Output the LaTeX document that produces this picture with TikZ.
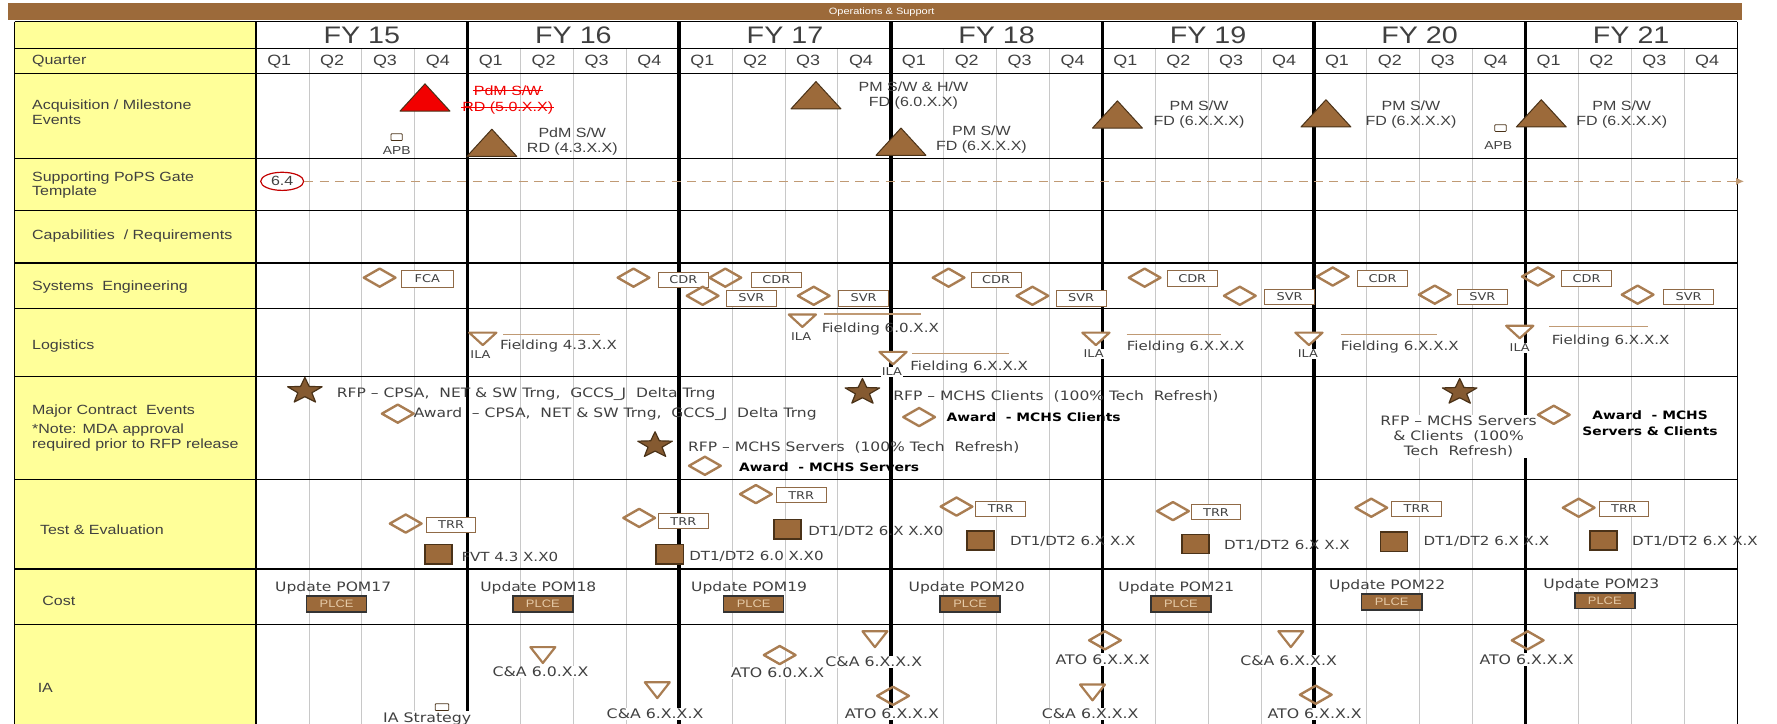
\documentclass[tikz,border=0pt]{standalone}
\usepackage{fontspec}
\setmainfont{Liberation Sans}[FakeStretch=1.2]
\newfontfamily\verdfont{DejaVu Sans}[FakeStretch=1.2]
\usepackage{tikz}
\usetikzlibrary{shapes.geometric,arrows.meta}
\definecolor{OpsBrown}{HTML}{9C6A3A}
\definecolor{OpsDark}{HTML}{4A3218}
\definecolor{OpsTan}{HTML}{A97D52}
\definecolor{OpsDash}{HTML}{C09A74}
\definecolor{OpsYellow}{HTML}{FFFF99}
\definecolor{OpsGrid}{HTML}{C8C8C8}
\definecolor{OpsText}{HTML}{404040}
\definecolor{OpsRed}{HTML}{F20000}
\definecolor{OpsPlce}{HTML}{E6CBA8}

\newcommand{\mstri}[3]{\draw[ms tri,fill=#1] (#2-22,#3+12) -- (#2,#3-12) -- (#2+22,#3+12) -- cycle;}
\newcommand{\dntri}[4]{\draw[dn tri] (#1-#3,#2-#4) -- (#1+#3,#2-#4) -- (#1,#2+#4) -- cycle;}
\newcommand{\revdia}[2]{\draw[rev dia] (#1-14,#2) -- (#1,#2-8) -- (#1+14,#2) -- (#1,#2+8) -- cycle;}
\newcommand{\ctrstar}[2]{\draw[ctr star,shift={(#1,#2)}] (0,-12) -- (3.82,-4.05) -- (15.22,-3.71)
  -- (6.18,1.55) -- (9.40,9.71) -- (0,5) -- (-9.40,9.71) -- (-6.18,1.55) -- (-15.22,-3.71)
  -- (-3.82,-4.05) -- cycle;}

\begin{document}
\begin{tikzpicture}[x=0.2mm,y=-0.2mm,
  ms tri/.style={draw=OpsDark,line width=0.5pt,line join=round},
  dn tri/.style={draw=OpsTan,fill=white,line width=1.1pt,line join=round},
  rev dia/.style={draw=OpsTan,line width=1.2pt,line join=round},
  ctr star/.style={draw=OpsDark,fill=OpsBrown!85!black,line width=0.6pt,line join=round},
  qlabel/.style={font=\fontsize{7.5}{8}\selectfont,text=OpsText},
  rowlabel/.style={anchor=west,font=\fontsize{6.7}{7.2}\selectfont,text=OpsText,align=left,inner sep=0pt},
  acqlabel/.style={font=\fontsize{6.7}{7.6}\selectfont,text=OpsText,inner sep=0.5pt,align=center},
  evlabel/.style={font=\verdfont\fontsize{6.3}{7.6}\selectfont,text=OpsText,inner sep=0.5pt},
  rfplabel/.style={font=\verdfont\fontsize{6.5}{7.6}\selectfont,text=OpsText,inner sep=0.5pt},
  evbold/.style={font=\verdfont\bfseries\fontsize{5.8}{8}\selectfont,text=black,inner sep=0.5pt},
  ialabel/.style={font=\verdfont\fontsize{6.6}{7}\selectfont,text=OpsText,fill=white,inner sep=0.6pt},
  costlabel/.style={font=\verdfont\fontsize{6.5}{7}\selectfont,text=OpsText,inner sep=0.5pt},
  revbox/.style={draw=OpsTan!85!black,fill=white,line width=0.5pt,minimum width=8.8mm,
    minimum height=2.8mm,inner sep=0pt,font=\verdfont\fontsize{5.4}{6}\selectfont,text=OpsText},
  dtsq/.style={draw=OpsDark,fill=OpsBrown,line width=0.8pt,minimum width=4.8mm,minimum height=3.4mm,inner sep=0pt},
  plce/.style={draw=black!80,fill=OpsBrown,line width=0.8pt,minimum width=10.6mm,minimum height=2.8mm,
    inner sep=0pt,font=\fontsize{5.4}{6}\selectfont,text=OpsPlce},
  apb/.style={draw=OpsDark,rounded corners=0.4pt,minimum width=2mm,minimum height=1.2mm,inner sep=0pt,line width=0.4pt},
  fieldline/.style={draw=OpsDash,line width=0.7pt}]
\useasboundingbox (0,0) rectangle (1568,638);

\fill[OpsBrown] (7,3) rectangle (1537,18);
\node[font=\fontsize{4.6}{5}\selectfont,text=white] (opsbar) at (778,10.5) {Operations \& Support};
\fill[OpsYellow] (13,19) rectangle (226,640);
\foreach \k in {1,...,27}
  \draw[OpsGrid,line width=0.5pt] (226+46.667*\k,43) -- (226+46.667*\k,640);
\foreach \r in {19,43,65,140,186,232,272,332,423,502,551}
  \draw[black,line width=0.6pt] (13,\r) -- (1533,\r);
\draw[black,line width=0.6pt] (13,19) -- (13,640);
\draw[black,line width=1pt] (226,19) -- (226,640);
\draw[black,line width=0.6pt] (1533,19) -- (1533,640);
\foreach \i in {1,...,6}
  \draw[black,line width=1.8pt] (226+186.667*\i,19) -- (226+186.667*\i,640);

\foreach \fy [count=\i from 0] in {15,...,21}
  \node[font=\fontsize{12}{13}\selectfont,text=OpsText] (fy\fy) at ({319.33+186.667*\i},31) {FY \fy};
\foreach \i in {0,...,6}
  \foreach \q in {1,...,4}
    \node[qlabel] (q\i-\q) at ({226+186.667*\i+46.667*\q-26.3},54) {Q\q};

\node[rowlabel] (lquarter) at (28,54) {Quarter};
\node[rowlabel] (lacq) at (28,99) {Acquisition / Milestone\\Events};
\node[rowlabel] (lpops) at (28,163) {Supporting PoPS Gate\\Template};
\node[rowlabel] (lcap) at (28,208) {Capabilities \ / Requirements};
\node[rowlabel] (lse) at (28,253) {Systems \ Engineering};
\node[rowlabel] (llog) at (28,305) {Logistics};
\node[rowlabel] (lmce) at (28,363) {Major Contract \ Events};
\node[rowlabel,font=\fontsize{6.7}{7.6}\selectfont] (lnote) at (28,386) {*Note: MDA approval\\required prior to RFP release};
\node[rowlabel] (lte) at (35,467) {Test \& Evaluation};
\node[rowlabel] (lcost) at (37,530) {Cost};
\node[rowlabel] (lia) at (33,607) {IA};

\mstri{OpsRed}{375}{86}
\node[acqlabel,text=OpsRed] (pdmold1) at (448,80) {PdM S/W};
\node[acqlabel,text=OpsRed] (pdmold2) at (448,95) {RD (5.0.X.X)};
\draw[OpsRed,line width=0.6pt] (pdmold1.west) -- (pdmold1.east);
\draw[OpsRed,line width=0.6pt] (pdmold2.west) -- (pdmold2.east);
\node[apb] (apb15) at (350,121) {};
\node[acqlabel,font=\fontsize{5.8}{6}\selectfont] (apb15txt) at (350,133) {APB};
\mstri{OpsBrown}{434}{126}
\node[acqlabel] (pdm43) at (505,125) {PdM S/W\\RD (4.3.X.X)};
\mstri{OpsBrown}{720}{84}
\node[acqlabel] (pm60) at (806,84) {PM S/W \& H/W\\FD (6.0.X.X)};
\mstri{OpsBrown}{795}{125}
\node[acqlabel] (pm18) at (866,123) {PM S/W\\FD (6.X.X.X)};
\mstri{OpsBrown}{986}{101}
\node[acqlabel] (pm19) at (1058,101) {PM S/W\\FD (6.X.X.X)};
\mstri{OpsBrown}{1170}{100}
\node[acqlabel] (pm20) at (1245,101) {PM S/W\\FD (6.X.X.X)};
\node[apb] (apb20) at (1324,113) {};
\node[acqlabel,font=\fontsize{5.8}{6}\selectfont] (apb20txt) at (1322,128) {APB};
\mstri{OpsBrown}{1360}{100}
\node[acqlabel] (pm21) at (1431,101) {PM S/W\\FD (6.X.X.X)};

\node[draw=OpsRed!80!black,ellipse,minimum width=7.6mm,minimum height=3.2mm,inner sep=0pt,line width=0.6pt,
  font=\fontsize{6.7}{7}\selectfont,text=OpsText] (gate64) at (249,160) {6.4};
\coordinate (gateend) at (1539,160);
\draw[OpsDash,line width=0.7pt,dash pattern=on 1.6mm off 1.1mm,-{Latex[length=1.4mm,width=1.3mm]}] (gate64) -- (gateend);

\revdia{335}{245}
\node[revbox,minimum width=9.2mm,minimum height=3mm] (fca) at (377,246) {FCA};
\revdia{559}{245}
\node[revbox] (cdr16) at (603,247) {CDR};
\revdia{640}{245}
\node[revbox] (cdr17) at (685,247) {CDR};
\revdia{620}{261}
\node[revbox] (svr16) at (663,263) {SVR};
\revdia{718}{261}
\node[revbox] (svr17) at (762,263) {SVR};
\revdia{837}{245}
\node[revbox] (cdr18) at (879,247) {CDR};
\revdia{911}{261}
\node[revbox] (svr18) at (954,263) {SVR};
\revdia{1010}{245}
\node[revbox] (cdr19) at (1052,246) {CDR};
\revdia{1094}{261}
\node[revbox] (svr19) at (1138,262) {SVR};
\revdia{1176}{244}
\node[revbox] (cdr20) at (1220,246) {CDR};
\revdia{1266}{260}
\node[revbox] (svr20) at (1308,262) {SVR};
\revdia{1357}{244}
\node[revbox] (cdr21) at (1400,246) {CDR};
\revdia{1445}{260}
\node[revbox] (svr21) at (1490,262) {SVR};

\dntri{426}{299}{12}{5.5}
\node[evlabel,fill=white,font=\verdfont\fontsize{5.4}{6}\selectfont] (ila16) at (424,313) {ILA};
\draw[fieldline] (444,295) -- (529,295);
\node[evlabel,anchor=west] (field16) at (440,305) {Fielding 4.3.X.X};
\dntri{708}{283}{12}{5.5}
\node[evlabel,fill=white,font=\verdfont\fontsize{5.4}{6}\selectfont] (ila17) at (707,297) {ILA};
\draw[fieldline] (727,277) -- (813,277);
\node[evlabel,anchor=west] (field17) at (724,290) {Fielding 6.0.X.X};
\dntri{788}{316}{12}{5.5}
\node[evlabel,fill=white,font=\verdfont\fontsize{5.4}{6}\selectfont] (ila18) at (787,328) {ILA};
\draw[fieldline] (805,312) -- (890,312);
\node[evlabel,anchor=west] (field18) at (802,324) {Fielding 6.X.X.X};
\dntri{967}{299}{12}{5.5}
\node[evlabel,fill=white,font=\verdfont\fontsize{5.4}{6}\selectfont] (ila19) at (965,312) {ILA};
\draw[fieldline] (994,295) -- (1077,295);
\node[evlabel,anchor=west] (field19) at (993,306) {Fielding 6.X.X.X};
\dntri{1155}{299}{12}{5.5}
\node[evlabel,fill=white,font=\verdfont\fontsize{5.4}{6}\selectfont] (ila20) at (1154,312) {ILA};
\draw[fieldline] (1183,295) -- (1268,295);
\node[evlabel,anchor=west] (field20) at (1182,306) {Fielding 6.X.X.X};
\dntri{1341}{293}{12}{5.5}
\node[evlabel,fill=white,font=\verdfont\fontsize{5.4}{6}\selectfont] (ila21) at (1341,307) {ILA};
\draw[fieldline] (1367,288) -- (1454,288);
\node[evlabel,anchor=west] (field21) at (1368,301) {Fielding 6.X.X.X};

\ctrstar{269}{345}
\node[rfplabel,anchor=west] (rfpcpsa) at (296,348) {RFP – CPSA, \ NET \& SW Trng, \ GCCS\_J \ Delta Trng};
\revdia{351}{365}
\node[rfplabel,anchor=west] (awdcpsa) at (364,365) {Award \ – CPSA, \ NET \& SW Trng, \ GCCS\_J \ Delta Trng};
\ctrstar{761}{346}
\node[rfplabel,anchor=west] (rfpcli) at (787,350) {RFP – MCHS Clients \ (100\% Tech \ Refresh)};
\revdia{811}{368}
\node[evbold,anchor=west] (awdcli) at (834,368) {Award \ - MCHS Clients};
\ctrstar{578}{393}
\node[rfplabel,anchor=west] (rfpsrv) at (606,395) {RFP – MCHS Servers \ (100\% Tech \ Refresh)};
\revdia{622}{411}
\node[evbold,anchor=west] (awdsrv) at (651,412) {Award \ - MCHS Servers};
\ctrstar{1288}{346}
\node[rfplabel,align=center,fill=white] (rfpboth) at (1287,385) {RFP – MCHS Servers\\\& Clients \ (100\%\\Tech \ Refresh)};
\revdia{1371}{366}
\node[evbold,align=center] (awdboth) at (1456,373) {Award \ - MCHS\\Servers \& Clients};

\revdia{358}{462}
\node[revbox,minimum height=2.6mm] (trr15) at (398,463) {TRR};
\node[dtsq] (fvt43) at (387,489) {};
\node[evlabel,anchor=west] (fvt43txt) at (406,491) {FVT 4.3 X.X0};
\revdia{564}{457}
\node[revbox,minimum height=2.6mm] (trr16) at (603,460) {TRR};
\node[dtsq] (dt60) at (591,489) {};
\node[evlabel,anchor=west] (dt60txt) at (607,491) {DT1/DT2 6.0 X.X0};
\revdia{667}{436}
\node[revbox,minimum height=2.6mm] (trr17) at (707,437) {TRR};
\node[dtsq] (dt6x) at (695,467) {};
\node[evlabel,anchor=west] (dt6xtxt) at (712,469) {DT1/DT2 6.X X.X0};
\revdia{844}{447}
\node[revbox,minimum height=2.6mm] (trr18) at (883,449) {TRR};
\node[dtsq] (dt18) at (865,477) {};
\node[evlabel,anchor=west] (dt18txt) at (890,478) {DT1/DT2 6.X X.X};
\revdia{1035}{451}
\node[revbox,minimum height=2.6mm] (trr19) at (1073,452) {TRR};
\node[dtsq] (dt19) at (1055,480) {};
\node[evlabel,anchor=west] (dt19txt) at (1079,481) {DT1/DT2 6.X X.X};
\revdia{1210}{448}
\node[revbox,minimum height=2.6mm] (trr20) at (1250,449) {TRR};
\node[dtsq] (dt20) at (1230,478) {};
\node[evlabel,anchor=west] (dt20txt) at (1255,478) {DT1/DT2 6.X X.X};
\revdia{1393}{448}
\node[revbox,minimum height=2.6mm] (trr21) at (1433,449) {TRR};
\node[dtsq] (dt21) at (1415,477) {};
\node[evlabel,anchor=west] (dt21txt) at (1439,478) {DT1/DT2 6.X X.X};

\node[costlabel] (pom17) at (294,519) {Update POM17};
\node[plce] (plce17) at (297,533) {PLCE};
\node[costlabel] (pom18) at (475,519) {Update POM18};
\node[plce] (plce18) at (479,533) {PLCE};
\node[costlabel] (pom19) at (661,519) {Update POM19};
\node[plce] (plce19) at (665,533) {PLCE};
\node[costlabel] (pom20) at (853,519) {Update POM20};
\node[plce] (plce20) at (856,533) {PLCE};
\node[costlabel] (pom21) at (1038,519) {Update POM21};
\node[plce] (plce21) at (1042,533) {PLCE};
\node[costlabel] (pom22) at (1224,517) {Update POM22};
\node[plce] (plce22) at (1228,531) {PLCE};
\node[costlabel] (pom23) at (1413,516) {Update POM23};
\node[plce] (plce23) at (1416,530) {PLCE};

\dntri{479}{578}{11}{7}
\node[ialabel] (ca60) at (477,593) {C\&A 6.0.X.X};
\node[apb,minimum width=2.4mm] (iastrat) at (390,624) {};
\node[ialabel] (iastrattxt) at (377,634) {IA Strategy};
\dntri{580}{609}{11}{7}
\node[ialabel] (ca16) at (578,630) {C\&A 6.X.X.X};
\revdia{688}{578}
\node[ialabel] (ato60) at (686,594) {ATO 6.0.X.X};
\dntri{772}{564}{11}{7}
\node[ialabel] (ca17) at (771,584) {C\&A 6.X.X.X};
\revdia{788}{614}
\node[ialabel] (ato18) at (787,630) {ATO 6.X.X.X};
\revdia{975}{565}
\node[ialabel] (ato19) at (973,582) {ATO 6.X.X.X};
\dntri{964}{611}{11}{7}
\node[ialabel] (ca19) at (962,630) {C\&A 6.X.X.X};
\dntri{1139}{564}{11}{7}
\node[ialabel] (ca20) at (1137,583) {C\&A 6.X.X.X};
\revdia{1161}{613}
\node[ialabel] (ato20) at (1160,630) {ATO 6.X.X.X};
\revdia{1348}{565}
\node[ialabel] (ato21) at (1347,582) {ATO 6.X.X.X};
\end{tikzpicture}
\end{document}
